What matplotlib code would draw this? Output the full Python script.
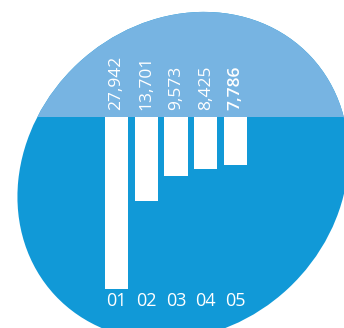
import matplotlib
matplotlib.use('Agg')
import matplotlib.pyplot as plt
import matplotlib.transforms as mtransforms
from matplotlib.patches import Ellipse, Rectangle

# data
categories = ['01', '02', '03', '04', '05']
values = [27942, 13701, 9573, 8425, 7786]

light_blue = '#77b4e2'
dark_blue = '#1199d7'

W, H = 344, 328
base_px = 117          # pixel row of the zero line
px_per_unit = 0.00616  # bar length scale
pitch = 29.75          # px between bar centres
first_px = 116.5       # centre of first bar

plt.rcParams['font.family'] = ['Open Sans', 'DejaVu Sans']

fig = plt.figure(figsize=(W / 100, H / 100), dpi=100)

# background egg, in pixel coords
ax_bg = fig.add_axes([0, 0, 1, 1])
ax_bg.set_xlim(0, W)
ax_bg.set_ylim(H, 0)
ax_bg.axis('off')
egg = Ellipse((183, 176), 350, 308, angle=-43, facecolor=dark_blue,
              edgecolor='none')
ax_bg.add_patch(egg)
top = Rectangle((0, 0), W, base_px, facecolor=light_blue, edgecolor='none')
ax_bg.add_patch(top)
top.set_clip_path(egg)

# bars hanging from the zero line
ax = fig.add_axes([0, 0, 1, 1])
ax.patch.set_alpha(0)
ax.axis('off')
ax.set_xlim(-first_px / pitch, (W - first_px) / pitch)
ax.set_ylim(-(H - base_px) / px_per_unit, base_px / px_per_unit)
xs = list(range(len(categories)))
ax.bar(xs, [-v for v in values], width=0.775, color='white', linewidth=0)

trans = mtransforms.blended_transform_factory(ax.transData, ax_bg.transData)
for i, (cat, v) in enumerate(zip(categories, values)):
    ax.text(i, base_px - 7, f'{v:,}', rotation=90, ha='center', va='bottom',
            color='white', fontsize=12.5,
            fontweight='semibold' if i == len(values) - 1 else 'normal',
            transform=trans)
    ax.text(i, 306, cat, ha='center', va='baseline', color='white',
            fontsize=13, transform=trans)

fig.savefig('out.png', dpi=100)
